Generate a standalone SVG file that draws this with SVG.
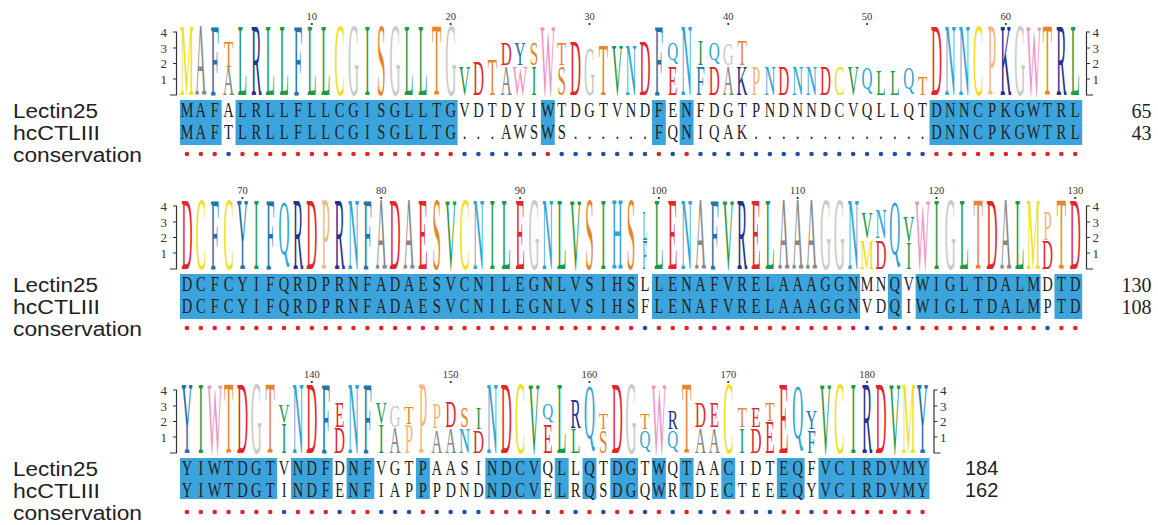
<svg xmlns="http://www.w3.org/2000/svg" width="1158" height="525" viewBox="0 0 1158 525">
<style>
.lbl{font-family:"Liberation Sans",Arial,sans-serif;font-size:20px;fill:#222}
.seq{font-family:"Liberation Serif","Times New Roman",serif;font-size:21px;fill:#222;text-anchor:middle}
.lg text{font-family:"Liberation Serif","Times New Roman",serif;font-size:22px;text-anchor:middle}
.F{transform:scale(1,4.72)}
.Q{transform:translate(0,-15.5px) scale(1,3.54)}
.r{fill:#e3262b}.y{fill:#f0df1c}.a{fill:#888}.l{fill:#c9c9c9}.b{fill:#2275ab}.g{fill:#1f9a48}.n{fill:#25318e}.o{fill:#e8852b}.c{fill:#2ea5d5}.w{fill:#f093c3}.p{fill:#f6b87c}.t{fill:#2f958c}
.hl{fill:#3ba4dc}
.ax{fill:none;stroke:#333;stroke-width:1.2}
.axn{font-family:"Liberation Serif","Times New Roman",serif;font-size:13px;fill:#333}
.pos{font-family:"Liberation Serif","Times New Roman",serif;font-size:10.5px;fill:#333;text-anchor:middle}
.tk{fill:#222}
.num{font-family:"Liberation Serif","Times New Roman",serif;font-size:20px;fill:#222;text-anchor:end}
.nums{font-family:"Liberation Sans",Arial,sans-serif;font-size:20px;fill:#222}
.dr,.db{fill:none;stroke-width:4.6;stroke-linecap:round;stroke-dasharray:0 13.88}
.dr{stroke:#e0262b}.db{stroke:#2050a8}
</style>
<rect width="1158" height="525" fill="#fff"/>

<g id="labels">
<text class="lbl" x="13" y="118" textLength="85" lengthAdjust="spacingAndGlyphs">Lectin25</text>
<text class="lbl" x="13" y="140" textLength="87" lengthAdjust="spacingAndGlyphs">hcCTLIII</text>
<text class="lbl" x="13" y="162" textLength="129" lengthAdjust="spacingAndGlyphs">conservation</text>
<text class="lbl" x="13" y="292" textLength="85" lengthAdjust="spacingAndGlyphs">Lectin25</text>
<text class="lbl" x="13" y="314" textLength="87" lengthAdjust="spacingAndGlyphs">hcCTLIII</text>
<text class="lbl" x="13" y="336" textLength="129" lengthAdjust="spacingAndGlyphs">conservation</text>
<text class="lbl" x="13" y="476" textLength="85" lengthAdjust="spacingAndGlyphs">Lectin25</text>
<text class="lbl" x="13" y="498" textLength="87" lengthAdjust="spacingAndGlyphs">hcCTLIII</text>
<text class="lbl" x="13" y="520" textLength="129" lengthAdjust="spacingAndGlyphs">conservation</text>
</g>

<!-- BLOCK 1 -->
<g id="block1">
<g class="axes">
<path class="ax" d="M173 32H176.5V95H170M173 48H176.5M173 63.5H176.5M173 79H176.5"/>
<path class="ax" d="M1090 32H1086.5V95H1093M1086.5 48H1090M1086.5 63.5H1090M1086.5 79H1090"/>
<g class="axn" text-anchor="end"><text x="167" y="36.5">4</text><text x="167" y="52.5">3</text><text x="167" y="68">2</text><text x="167" y="83.5">1</text></g>
<g class="axn"><text x="1092.5" y="36.5">4</text><text x="1092.5" y="52.5">3</text><text x="1092.5" y="68">2</text><text x="1092.5" y="83.5">1</text></g>
</g>
<g class="ruler">
<text class="pos" x="311.86" y="20">10</text><circle class="tk" cx="311.86" cy="24" r="1.1"/>
<text class="pos" x="450.66" y="20">20</text><circle class="tk" cx="450.66" cy="24" r="1.1"/>
<text class="pos" x="589.46" y="20">30</text><circle class="tk" cx="589.46" cy="24" r="1.1"/>
<text class="pos" x="728.26" y="20">40</text><circle class="tk" cx="728.26" cy="24" r="1.1"/>
<text class="pos" x="867.06" y="20">50</text><circle class="tk" cx="867.06" cy="24" r="1.1"/>
<text class="pos" x="1005.86" y="20">60</text><circle class="tk" cx="1005.86" cy="24" r="1.1"/>
</g>
<g class="lg" transform="translate(180,95) scale(0.694,1)">
<text class="F y" x="10">M</text>
<text class="F a" x="30">A</text>
<text class="F b" x="50">F</text>
<text class="a" x="70" transform="scale(1,1.87)">A</text>
<text class="o" x="70" transform="translate(0,-28) scale(1,1.74)">T</text>
<text class="F g" x="90">L</text>
<text class="F n" x="110">R</text>
<text class="F g" x="130">L</text>
<text class="F g" x="150">L</text>
<text class="F b" x="170">F</text>
<text class="F g" x="190">L</text>
<text class="F g" x="210">L</text>
<text class="F y" x="230">C</text>
<text class="F l" x="250">G</text>
<text class="F g" x="270">I</text>
<text class="F o" x="290">S</text>
<text class="F l" x="310">G</text>
<text class="F g" x="330">L</text>
<text class="F g" x="350">L</text>
<text class="F o" x="370">T</text>
<text class="F l" x="390">G</text>
<text class="g" x="410" transform="scale(1,1.95)">V</text>
<text class="r" x="430" transform="scale(1,2.29)">D</text>
<text class="o" x="450" transform="scale(1,2.43)">T</text>
<text class="a" x="470" transform="scale(1,1.95)">A</text>
<text class="r" x="470" transform="translate(0,-30) scale(1,1.53)">D</text>
<text class="w" x="490" transform="scale(1,1.87)">W</text>
<text class="b" x="490" transform="translate(0,-30) scale(1,1.53)">Y</text>
<text class="g" x="510" transform="scale(1,1.87)">I</text>
<text class="o" x="510" transform="translate(0,-30) scale(1,1.53)">S</text>
<text class="F w" x="530">W</text>
<text class="o" x="550" transform="scale(1,1.95)">S</text>
<text class="o" x="550" transform="translate(0,-30) scale(1,1.53)">T</text>
<text class="r" x="570" transform="scale(1,3.61)">D</text>
<text class="l" x="590" transform="scale(1,3.13)">G</text>
<text class="o" x="610" transform="scale(1,3.33)">T</text>
<text class="g" x="630" transform="scale(1,3.33)">V</text>
<text class="c" x="650" transform="scale(1,3.33)">N</text>
<text class="r" x="670" transform="scale(1,3.61)">D</text>
<text class="F b" x="690">F</text>
<text class="r" x="710" transform="scale(1,1.87)">E</text>
<text class="c" x="710" transform="translate(0,-35) scale(1,1.15)">Q</text>
<text class="F c" x="730">N</text>
<text class="b" x="750" transform="scale(1,1.87)">F</text>
<text class="g" x="750" transform="translate(0,-30) scale(1,1.6)">I</text>
<text class="r" x="770" transform="scale(1,1.87)">D</text>
<text class="c" x="770" transform="translate(0,-35) scale(1,1.15)">Q</text>
<text class="a" x="790" transform="scale(1,1.87)">A</text>
<text class="l" x="790" transform="translate(0,-30) scale(1,1.39)">G</text>
<text class="n" x="810" transform="scale(1,1.87)">K</text>
<text class="o" x="810" transform="translate(0,-30) scale(1,1.6)">T</text>
<text class="p" x="830" transform="scale(1,1.87)">P</text>
<text class="c" x="850" transform="scale(1,1.87)">N</text>
<text class="r" x="870" transform="scale(1,1.95)">D</text>
<text class="c" x="890" transform="scale(1,1.87)">N</text>
<text class="c" x="910" transform="scale(1,1.87)">N</text>
<text class="r" x="930" transform="scale(1,1.95)">D</text>
<text class="y" x="950" transform="scale(1,1.87)">C</text>
<text class="g" x="970" transform="scale(1,1.87)">V</text>
<text class="c" x="990" transform="translate(0,-6.2) scale(1,1.4)">Q</text>
<text class="g" x="1010" transform="scale(1,1.6)">L</text>
<text class="g" x="1030" transform="scale(1,1.6)">L</text>
<text class="c" x="1050" transform="translate(0,-6.2) scale(1,1.4)">Q</text>
<text class="o" x="1070" transform="scale(1,1.25)">T</text>
<text class="F r" x="1090">D</text>
<text class="F c" x="1110">N</text>
<text class="F c" x="1130">N</text>
<text class="F y" x="1150">C</text>
<text class="F p" x="1170">P</text>
<text class="F n" x="1190">K</text>
<text class="F l" x="1210">G</text>
<text class="F w" x="1230">W</text>
<text class="F o" x="1250">T</text>
<text class="F n" x="1270">R</text>
<text class="F g" x="1290">L</text>
</g>
<g class="rows" transform="translate(180,0) scale(0.694,1)">
<rect class="hl" x="0" y="100" width="60" height="45"/>
<rect class="hl" x="80" y="100" width="320" height="45"/>
<rect class="hl" x="520" y="100" width="20" height="45"/>
<rect class="hl" x="680" y="100" width="20" height="45"/>
<rect class="hl" x="720" y="100" width="20" height="45"/>
<rect class="hl" x="1080" y="100" width="220" height="45"/>
<text class="seq" y="117" x="10 30 50 70 90 110 130 150 170 190 210 230 250 270 290 310 330 350 370 390 410 430 450 470 490 510 530 550 570 590 610 630 650 670 690 710 730 750 770 790 810 830 850 870 890 910 930 950 970 990 1010 1030 1050 1070 1090 1110 1130 1150 1170 1190 1210 1230 1250 1270 1290">MAFALRLLFLLCGISGLLTGVDTDYIWTDGTVNDFENFDGTPNDNNDCVQLLQTDNNCPKGWTRL</text>
<text class="seq" y="139.5" x="10 30 50 70 90 110 130 150 170 190 210 230 250 270 290 310 330 350 370 390 410 430 450 470 490 510 530 550 570 590 610 630 650 670 690 710 730 750 770 790 810 830 850 870 890 910 930 950 970 990 1010 1030 1050 1070 1090 1110 1130 1150 1170 1190 1210 1230 1250 1270 1290">MAFTLRLLFLLCGISGLLTG...AWSWS......FQNIQAK.............DNNCPKGWTRL</text>
</g>
<text class="num" x="1151.5" y="118">65</text>
<text class="num" x="1151.5" y="140">43</text>
<g class="cons">
<path class="dr" d="M186.94 154H215M242.46 154H451M547.82 154h.1M658.86 154h.1M686.62 154h.1M936.46 154H1075.6"/>
<path class="db" d="M228.58 154h.1M464.54 154H534.3M561.7 154H645.3M672.74 154h.1M700.5 154H922.9"/>
</g>
</g>

<!-- BLOCK 2 -->
<g id="block2" transform="translate(0,174)">
<g class="axes">
<path class="ax" d="M173 32H176.5V95H170M173 48H176.5M173 63.5H176.5M173 79H176.5"/>
<path class="ax" d="M1090 32H1086.5V95H1093M1086.5 48H1090M1086.5 63.5H1090M1086.5 79H1090"/>
<g class="axn" text-anchor="end"><text x="167" y="36.5">4</text><text x="167" y="52.5">3</text><text x="167" y="68">2</text><text x="167" y="83.5">1</text></g>
<g class="axn"><text x="1092.5" y="36.5">4</text><text x="1092.5" y="52.5">3</text><text x="1092.5" y="68">2</text><text x="1092.5" y="83.5">1</text></g>
</g>
<g class="ruler">
<text class="pos" x="242.46" y="20">70</text><circle class="tk" cx="242.46" cy="24" r="1.1"/>
<text class="pos" x="381.26" y="20">80</text><circle class="tk" cx="381.26" cy="24" r="1.1"/>
<text class="pos" x="520.06" y="20">90</text><circle class="tk" cx="520.06" cy="24" r="1.1"/>
<text class="pos" x="658.86" y="20">100</text><circle class="tk" cx="658.86" cy="24" r="1.1"/>
<text class="pos" x="797.66" y="20">110</text><circle class="tk" cx="797.66" cy="24" r="1.1"/>
<text class="pos" x="936.46" y="20">120</text><circle class="tk" cx="936.46" cy="24" r="1.1"/>
<text class="pos" x="1075.26" y="20">130</text><circle class="tk" cx="1075.26" cy="24" r="1.1"/>
</g>
<g class="lg" transform="translate(180,95) scale(0.694,1)">
<text class="F r" x="10">D</text>
<text class="F y" x="30">C</text>
<text class="F b" x="50">F</text>
<text class="F y" x="70">C</text>
<text class="F b" x="90">Y</text>
<text class="F g" x="110">I</text>
<text class="F b" x="130">F</text>
<text class="Q c" x="150">Q</text>
<text class="F n" x="170">R</text>
<text class="F r" x="190">D</text>
<text class="F p" x="210">P</text>
<text class="F n" x="230">R</text>
<text class="F c" x="250">N</text>
<text class="F b" x="270">F</text>
<text class="F a" x="290">A</text>
<text class="F r" x="310">D</text>
<text class="F a" x="330">A</text>
<text class="F r" x="350">E</text>
<text class="F o" x="370">S</text>
<text class="F g" x="390">V</text>
<text class="F y" x="410">C</text>
<text class="F c" x="430">N</text>
<text class="F g" x="450">I</text>
<text class="F g" x="470">L</text>
<text class="F r" x="490">E</text>
<text class="F l" x="510">G</text>
<text class="F c" x="530">N</text>
<text class="F g" x="550">L</text>
<text class="F g" x="570">V</text>
<text class="F o" x="590">S</text>
<text class="F g" x="610">I</text>
<text class="F c" x="630">H</text>
<text class="F o" x="650">S</text>
<text class="b" transform="translate(670,0) scale(0.5,1.95)">F</text>
<text class="t" transform="translate(670,-29) scale(0.5,1.87)">L</text>
<text class="F g" x="690">L</text>
<text class="F r" x="710">E</text>
<text class="F c" x="730">N</text>
<text class="F a" x="750">A</text>
<text class="F b" x="770">F</text>
<text class="F g" x="790">V</text>
<text class="F n" x="810">R</text>
<text class="F r" x="830">E</text>
<text class="F g" x="850">L</text>
<text class="F a" x="870">A</text>
<text class="F a" x="890">A</text>
<text class="F a" x="910">A</text>
<text class="F l" x="930">G</text>
<text class="F l" x="950">G</text>
<text class="F c" x="970">N</text>
<text class="y" x="990" transform="scale(1,1.95)">M</text>
<text class="g" x="990" transform="translate(0,-31) scale(1,1.74)">V</text>
<text class="r" x="1010" transform="scale(1,1.95)">D</text>
<text class="c" x="1010" transform="translate(0,-31) scale(1,1.95)">N</text>
<text class="Q c" x="1030">Q</text>
<text class="g" x="1050" transform="scale(1,1.8)">I</text>
<text class="g" x="1050" transform="translate(0,-27) scale(1,1.74)">V</text>
<text class="F w" x="1070">W</text>
<text class="F g" x="1090">I</text>
<text class="F l" x="1110">G</text>
<text class="F g" x="1130">L</text>
<text class="F o" x="1150">T</text>
<text class="F r" x="1170">D</text>
<text class="F a" x="1190">A</text>
<text class="F g" x="1210">L</text>
<text class="F y" x="1230">M</text>
<text class="r" x="1250" transform="scale(1,1.87)">D</text>
<text class="p" x="1250" transform="translate(0,-29) scale(1,1.95)">P</text>
<text class="F o" x="1270">T</text>
<text class="F r" x="1290">D</text>
</g>
<g class="rows" transform="translate(180,0) scale(0.694,1)">
<rect class="hl" x="0" y="100" width="660" height="45"/>
<rect class="hl" x="680" y="100" width="300" height="45"/>
<rect class="hl" x="1020" y="100" width="20" height="45"/>
<rect class="hl" x="1060" y="100" width="180" height="45"/>
<rect class="hl" x="1260" y="100" width="40" height="45"/>
<text class="seq" y="117" x="10 30 50 70 90 110 130 150 170 190 210 230 250 270 290 310 330 350 370 390 410 430 450 470 490 510 530 550 570 590 610 630 650 670 690 710 730 750 770 790 810 830 850 870 890 910 930 950 970 990 1010 1030 1050 1070 1090 1110 1130 1150 1170 1190 1210 1230 1250 1270 1290">DCFCYIFQRDPRNFADAESVCNILEGNLVSIHSLLENAFVRELAAAGGNMNQVWIGLTDALMDTD</text>
<text class="seq" y="139.5" x="10 30 50 70 90 110 130 150 170 190 210 230 250 270 290 310 330 350 370 390 410 430 450 470 490 510 530 550 570 590 610 630 650 670 690 710 730 750 770 790 810 830 850 870 890 910 930 950 970 990 1010 1030 1050 1070 1090 1110 1130 1150 1170 1190 1210 1230 1250 1270 1290">DCFCYIFQRDPRNFADAESVCNILEGNLVSIHSFLENAFVRELAAAGGNVDQIWIGLTDALMPTD</text>
</g>
<text class="num" x="1151.5" y="118">130</text>
<text class="num" x="1151.5" y="140">108</text>
<g class="cons">
<path class="dr" d="M186.94 154H631.4M658.86 154H853.5M894.82 154h.1M922.58 154H1033.9M1061.38 154H1075.6"/>
<path class="db" d="M644.98 154h.1M867.06 154H881.2M908.7 154h.1M1047.5 154h.1"/>
</g>
</g>

<!-- BLOCK 3 -->
<g id="block3" transform="translate(0,358)">
<g class="axes">
<path class="ax" d="M173 32H176.5V95H170M173 48H176.5M173 63.5H176.5M173 79H176.5"/>
<path class="ax" d="M937.5 32H934V95H940.5M934 48H937.5M934 63.5H937.5M934 79H937.5"/>
<g class="axn" text-anchor="end"><text x="167" y="36.5">4</text><text x="167" y="52.5">3</text><text x="167" y="68">2</text><text x="167" y="83.5">1</text></g>
<g class="axn"><text x="940" y="36.5">4</text><text x="940" y="52.5">3</text><text x="940" y="68">2</text><text x="940" y="83.5">1</text></g>
</g>
<g class="ruler">
<text class="pos" x="311.86" y="20">140</text><circle class="tk" cx="311.86" cy="24" r="1.1"/>
<text class="pos" x="450.66" y="20">150</text><circle class="tk" cx="450.66" cy="24" r="1.1"/>
<text class="pos" x="589.46" y="20">160</text><circle class="tk" cx="589.46" cy="24" r="1.1"/>
<text class="pos" x="728.26" y="20">170</text><circle class="tk" cx="728.26" cy="24" r="1.1"/>
<text class="pos" x="867.06" y="20">180</text><circle class="tk" cx="867.06" cy="24" r="1.1"/>
</g>
<g class="lg" transform="translate(180,95) scale(0.694,1)">
<text class="F b" x="10">Y</text>
<text class="F g" x="30">I</text>
<text class="F w" x="50">W</text>
<text class="F o" x="70">T</text>
<text class="F r" x="90">D</text>
<text class="F l" x="110">G</text>
<text class="F o" x="130">T</text>
<text class="g" x="150" transform="scale(1,2.01)">I</text>
<text class="g" x="150" transform="translate(0,-30) scale(1,1.25)">V</text>
<text class="F c" x="170">N</text>
<text class="F r" x="190">D</text>
<text class="F b" x="210">F</text>
<text class="r" x="230" transform="scale(1,1.74)">D</text>
<text class="r" x="230" transform="translate(0,-26) scale(1,1.66)">E</text>
<text class="F c" x="250">N</text>
<text class="F b" x="270">F</text>
<text class="g" x="290" transform="scale(1,1.87)">I</text>
<text class="g" x="290" transform="translate(0,-29) scale(1,1.39)">V</text>
<text class="a" x="310" transform="scale(1,1.74)">A</text>
<text class="l" x="310" transform="translate(0,-26) scale(1,1.39)">G</text>
<text class="p" x="330" transform="scale(1,1.87)">P</text>
<text class="o" x="330" transform="translate(0,-29) scale(1,1.18)">T</text>
<text class="F p" x="350">P</text>
<text class="a" x="370" transform="scale(1,1.53)">A</text>
<text class="p" x="370" transform="translate(0,-25) scale(1,1.66)">P</text>
<text class="a" x="390" transform="scale(1,1.66)">A</text>
<text class="r" x="390" transform="translate(0,-26) scale(1,1.74)">D</text>
<text class="c" x="410" transform="scale(1,1.66)">N</text>
<text class="o" x="410" transform="translate(0,-26) scale(1,1.32)">S</text>
<text class="r" x="430" transform="scale(1,1.53)">D</text>
<text class="g" x="430" transform="translate(0,-24) scale(1,1.39)">I</text>
<text class="F c" x="450">N</text>
<text class="F r" x="470">D</text>
<text class="F y" x="490">C</text>
<text class="F g" x="510">V</text>
<text class="r" x="530" transform="scale(1,1.87)">E</text>
<text class="c" x="530" transform="translate(0,-33.6) scale(1,1.04)">Q</text>
<text class="F g" x="550">L</text>
<text class="g" x="570" transform="scale(1,1.6)">L</text>
<text class="n" x="570" transform="translate(0,-25) scale(1,1.95)">R</text>
<text class="Q c" x="590">Q</text>
<text class="o" x="610" transform="scale(1,1.53)">S</text>
<text class="o" x="610" transform="translate(0,-24) scale(1,1.05)">T</text>
<text class="F r" x="630">D</text>
<text class="F l" x="650">G</text>
<text class="c" x="670" transform="translate(0,-5) scale(1,1.15)">Q</text>
<text class="o" x="670" transform="translate(0,-24) scale(1,1.05)">T</text>
<text class="F w" x="690">W</text>
<text class="c" x="710" transform="translate(0,-5) scale(1,1.15)">Q</text>
<text class="n" x="710" transform="translate(0,-24) scale(1,1.25)">R</text>
<text class="F o" x="730">T</text>
<text class="a" x="750" transform="scale(1,1.66)">A</text>
<text class="r" x="750" transform="translate(0,-26) scale(1,1.66)">D</text>
<text class="a" x="770" transform="scale(1,1.66)">A</text>
<text class="r" x="770" transform="translate(0,-26) scale(1,1.66)">E</text>
<text class="F y" x="790">C</text>
<text class="g" x="810" transform="scale(1,1.66)">I</text>
<text class="o" x="810" transform="translate(0,-26) scale(1,1.32)">T</text>
<text class="r" x="830" transform="scale(1,1.66)">D</text>
<text class="r" x="830" transform="translate(0,-26) scale(1,1.32)">E</text>
<text class="r" x="850" transform="scale(1,2.08)">E</text>
<text class="o" x="850" transform="translate(0,-32) scale(1,1.25)">T</text>
<text class="F r" x="870">E</text>
<text class="Q c" x="890">Q</text>
<text class="b" x="910" transform="scale(1,1.53)">F</text>
<text class="b" x="910" transform="translate(0,-24) scale(1,1.25)">Y</text>
<text class="F g" x="930">V</text>
<text class="F y" x="950">C</text>
<text class="F g" x="970">I</text>
<text class="F n" x="990">R</text>
<text class="F r" x="1010">D</text>
<text class="F g" x="1030">V</text>
<text class="F y" x="1050">M</text>
<text class="F b" x="1070">Y</text>
</g>
<g class="rows" transform="translate(180,0) scale(0.694,1)">
<rect class="hl" x="0" y="100" width="140" height="41"/>
<rect class="hl" x="160" y="100" width="60" height="41"/>
<rect class="hl" x="240" y="100" width="40" height="41"/>
<rect class="hl" x="340" y="100" width="20" height="41"/>
<rect class="hl" x="440" y="100" width="80" height="41"/>
<rect class="hl" x="540" y="100" width="20" height="41"/>
<rect class="hl" x="580" y="100" width="20" height="41"/>
<rect class="hl" x="620" y="100" width="40" height="41"/>
<rect class="hl" x="680" y="100" width="20" height="41"/>
<rect class="hl" x="720" y="100" width="20" height="41"/>
<rect class="hl" x="780" y="100" width="20" height="41"/>
<rect class="hl" x="860" y="100" width="40" height="41"/>
<rect class="hl" x="920" y="100" width="160" height="41"/>
<text class="seq" y="117" x="10 30 50 70 90 110 130 150 170 190 210 230 250 270 290 310 330 350 370 390 410 430 450 470 490 510 530 550 570 590 610 630 650 670 690 710 730 750 770 790 810 830 850 870 890 910 930 950 970 990 1010 1030 1050 1070">YIWTDGTVNDFDNFVGTPAASINDCVQLLQTDGTWQTAACIDTEQFVCIRDVMY</text>
<text class="seq" y="139" x="10 30 50 70 90 110 130 150 170 190 210 230 250 270 290 310 330 350 370 390 410 430 450 470 490 510 530 550 570 590 610 630 650 670 690 710 730 750 770 790 810 830 850 870 890 910 930 950 970 990 1010 1030 1050 1070">YIWTDGTINDFENFIAPPPDNDNDCVELRQSDGQWRTDECTEEEQYVCIRDVMY</text>
</g>
<text class="nums" x="965" y="117">184</text>
<text class="nums" x="965" y="139">162</text>
<g class="cons">
<path class="dr" d="M186.94 154H270.5M297.98 154H326M353.5 154H367.7M422.9 154h.1M492.3 154H534.2M561.7 154h.1M589.46 154h.1M617.22 154H631.4M658.86 154h.1M686.62 154h.1M728.26 154h.1M783.78 154H798M825.42 154H922.9"/>
<path class="db" d="M284.1 154h.1M339.62 154h.1M381.26 154H409.3M436.78 154H478.7M547.82 154h.1M575.58 154h.1M603.34 154h.1M644.98 154h.1M672.74 154h.1M700.5 154H714.7M742.14 154H770.2M811.54 154h.1"/>
</g>
</g>
</svg>
